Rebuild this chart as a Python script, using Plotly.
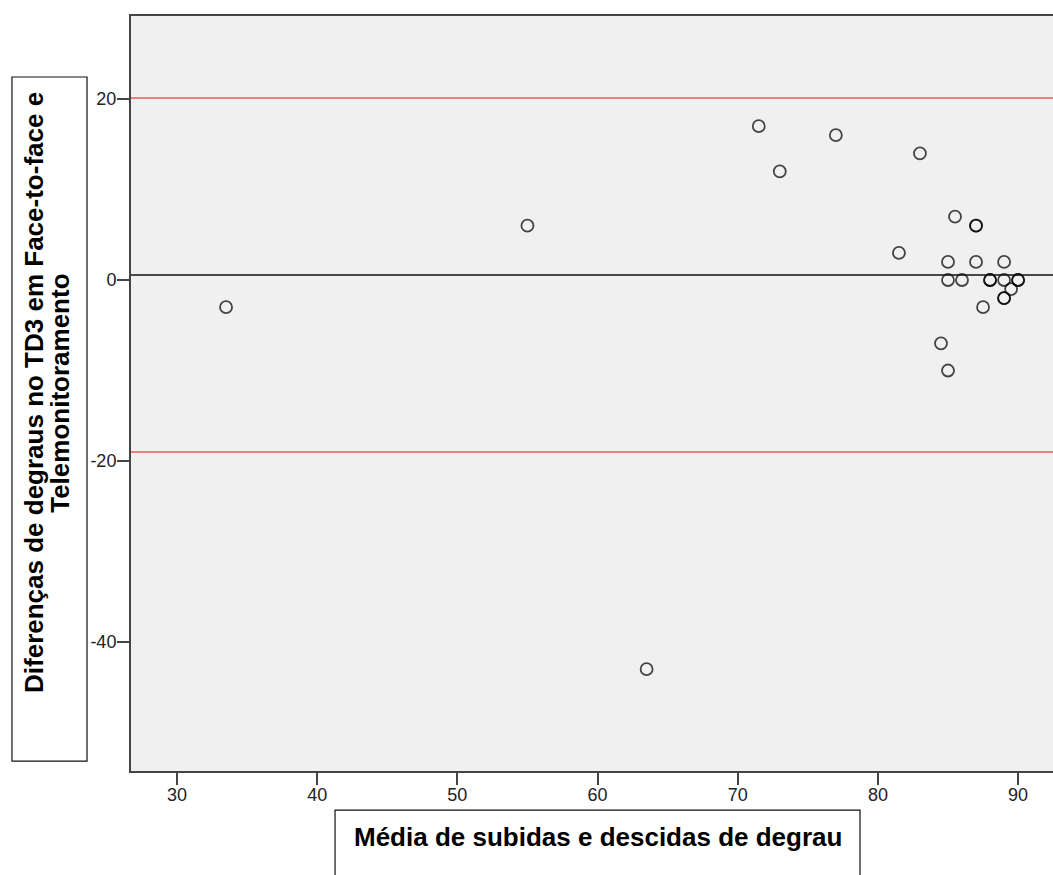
import plotly.graph_objects as go

# Data (Bland-Altman style)
media = [33.5, 55.0, 63.5, 71.5, 73.0, 77.0, 83.0, 81.5, 85.5, 87.0, 87.0,
         85.0, 87.0, 89.0, 85.0, 86.0, 88.0, 88.0, 89.0, 90.0, 90.0,
         89.5, 89.0, 89.0, 87.5, 84.5, 85.0]
diferenca = [-3, 6, -43, 17, 12, 16, 14, 3, 7, 6, 6,
             2, 2, 2, 0, 0, 0, 0, 0, 0, 0,
             -1, -2, -2, -3, -7, -10]

mean_diff = 0.55
upper_loa = 20.1
lower_loa = -19.0

x_ticks = [30, 40, 50, 60, 70, 80, 90]
y_ticks = [20, 0, -20, -40]

x_title = "Média de subidas e descidas de degrau"
y_title_1 = "Diferenças de degraus no TD3 em Face-to-face e"
y_title_2 = "Telemonitoramento"

FONT = "Liberation Sans, Arial, sans-serif"

fig = go.Figure()
fig.add_trace(go.Scatter(
    x=media, y=diferenca, mode="markers",
    marker=dict(symbol="circle-open", size=12, color="rgba(0,0,0,0.72)",
                line=dict(width=1.8, color="rgba(0,0,0,0.72)")),
    showlegend=False, hoverinfo="x+y"))

# reference lines
for val, col, w in [(upper_loa, "#F08080", 2), (lower_loa, "#F08080", 2), (mean_diff, "#111111", 1.4)]:
    fig.add_shape(type="line", xref="paper", x0=0, x1=1, yref="y", y0=val, y1=val,
                  line=dict(color=col, width=w), layer="above")

# title boxes
fig.add_shape(type="rect", xref="paper", yref="paper",
              x0=-0.1291, x1=-0.0477, y0=0.0132, y1=0.9192,
              line=dict(color="#111111", width=1.2), fillcolor="rgba(0,0,0,0)")
fig.add_shape(type="rect", xref="paper", yref="paper",
              x0=0.2213, x1=0.7907, y0=-0.1576, y1=-0.0517,
              line=dict(color="#111111", width=1.2), fillcolor="rgba(0,0,0,0)")

fig.add_annotation(text="<b>" + x_title + "</b>", xref="paper", yref="paper",
                   x=0.5065, y=-0.0874, xanchor="center", yanchor="middle",
                   showarrow=False, font=dict(family=FONT, size=26, color="#000000"))
fig.add_annotation(text="<b>" + y_title_1 + "</b>", xref="paper", yref="paper",
                   x=-0.1052, y=0.5007, xanchor="center", yanchor="middle", textangle=-90,
                   showarrow=False, font=dict(family=FONT, size=26, color="#000000"))
fig.add_annotation(text="<b>" + y_title_2 + "</b>", xref="paper", yref="paper",
                   x=-0.0772, y=0.5007, xanchor="center", yanchor="middle", textangle=-90,
                   showarrow=False, font=dict(family=FONT, size=26, color="#000000"))

fig.update_xaxes(range=[26.72, 92.49], tickvals=x_ticks, ticktext=[str(v) for v in x_ticks],
                 showgrid=False, zeroline=False, showline=True, linecolor="#444444", linewidth=2,
                 mirror=True, ticks="outside", ticklen=12, tickwidth=2, tickcolor="#444444",
                 ticklabelstandoff=-6,
                 tickfont=dict(family=FONT, size=18, color="#222222"))
fig.update_yaxes(range=[-54.25, 29.17], tickvals=y_ticks, ticktext=[str(v) for v in y_ticks],
                 showgrid=False, zeroline=False, showline=True, linecolor="#444444", linewidth=2,
                 mirror=False, ticks="outside", ticklen=12, tickwidth=2, tickcolor="#444444",
                 ticklabelstandoff=-3,
                 tickfont=dict(family=FONT, size=18, color="#222222"))

fig.update_layout(width=1053, height=875, margin=dict(l=131, r=0, t=16, b=104),
                  plot_bgcolor="#F0F0F0", paper_bgcolor="#FFFFFF",
                  font=dict(family=FONT))

fig.write_html("out.html", config={"displayModeBar": False},
               post_script="document.body.style.margin='0';")
